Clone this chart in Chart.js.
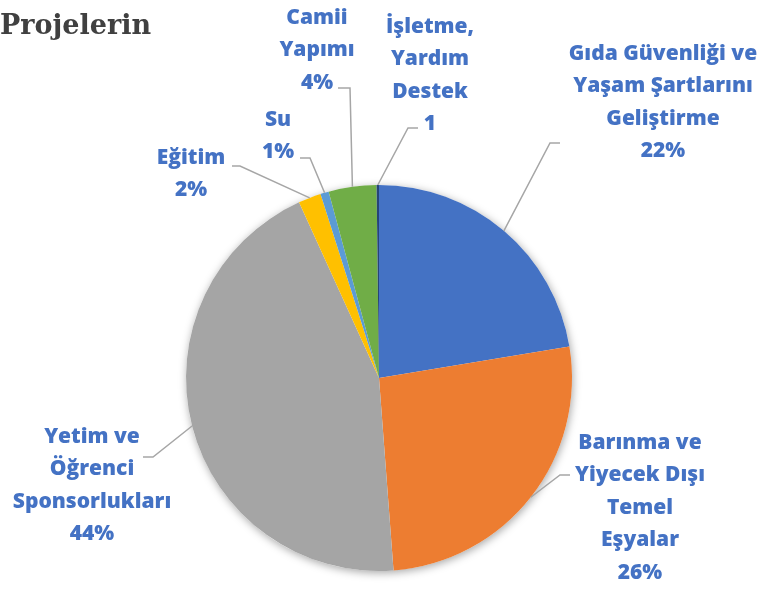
<!DOCTYPE html>
<html>
<head>
<meta charset="utf-8">
<script src="https://cdn.jsdelivr.net/npm/chart.js@4"></script>
<style>
  html, body { margin: 0; padding: 0; background: #fff; }
  canvas { display: block; }
</style>
</head>
<body>
<canvas id="chart" width="763" height="590"></canvas>
<script>
// chart title
const chartTitle = 'Projelerin';

// slice names, in drawing order (clockwise from 12 o'clock)
const categories = [
  'Gıda Güvenliği ve Yaşam Şartlarını Geliştirme',
  'Barınma ve Yiyecek Dışı Temel Eşyalar',
  'Yetim ve Öğrenci Sponsorlukları',
  'Eğitim',
  'Su',
  'Camii Yapımı',
  'İşletme, Yardım Destek'
];

// share of each slice (percent)
const shares = [22.4, 26.4, 44.4, 1.9, 0.7, 4.0, 0.2];

// label text as shown next to each slice (one entry per line)
const labelLines = [
  ['Gıda Güvenliği ve', 'Yaşam Şartlarını', 'Geliştirme', '22%'],
  ['Barınma ve', 'Yiyecek Dışı', 'Temel', 'Eşyalar', '26%'],
  ['Yetim ve', 'Öğrenci', 'Sponsorlukları', '44%'],
  ['Eğitim', '2%'],
  ['Su', '1%'],
  ['Camii', 'Yapımı', '4%'],
  ['İşletme,', 'Yardım', 'Destek', '1']
];

const sliceColors = ['#4472C4', '#ED7D31', '#A5A5A5', '#FFC000', '#5B9BD5', '#70AD47', '#264478'];

// where each data label sits: text centre x, first line y, leader elbow and end
const labelLayout = [
  { x: 663, y: 54, elbow: [550, 143], end: [560, 143] },
  { x: 640, y: 443, elbow: [560, 475], end: [570, 475] },
  { x: 92, y: 437, elbow: [153, 457], end: [143, 457] },
  { x: 191, y: 158, elbow: [240, 166], end: [232, 166] },
  { x: 278, y: 120, elbow: [310, 158], end: [300, 158] },
  { x: 317, y: 18, elbow: [350, 88], end: [338, 88] },
  { x: 430, y: 27, elbow: [408, 128], end: [418, 128] }
];
const lineGap = 32.5;

// soft shadow under the pie, like the office chart
const pieShadow = {
  id: 'pieShadow',
  beforeDatasetsDraw(chart) {
    const arc = chart.getDatasetMeta(0).data[0];
    if (!arc) return;
    const ctx = chart.ctx;
    ctx.save();
    ctx.shadowColor = 'rgba(0,0,0,0.35)';
    ctx.shadowBlur = 9;
    ctx.shadowOffsetX = 1;
    ctx.shadowOffsetY = 2;
    ctx.fillStyle = '#ffffff';
    ctx.beginPath();
    ctx.arc(arc.x, arc.y, arc.outerRadius, 0, Math.PI * 2);
    ctx.fill();
    ctx.restore();
  }
};

// leader lines and labels outside the pie
const outsideLabels = {
  id: 'outsideLabels',
  afterDatasetsDraw(chart) {
    const ctx = chart.ctx;
    const arcs = chart.getDatasetMeta(0).data;
    ctx.save();
    // title
    ctx.font = 'bold 27px "DejaVu Serif"';
    ctx.fillStyle = '#404040';
    ctx.textAlign = 'left';
    ctx.textBaseline = 'alphabetic';
    ctx.fillText(chartTitle, 0, 34);

    arcs.forEach((arc, i) => {
      const lay = labelLayout[i];
      const mid = (arc.startAngle + arc.endAngle) / 2;
      const sx = arc.x + Math.cos(mid) * arc.outerRadius;
      const sy = arc.y + Math.sin(mid) * arc.outerRadius;
      ctx.strokeStyle = '#A6A6A6';
      ctx.lineWidth = 1.5;
      ctx.beginPath();
      ctx.moveTo(sx, sy);
      ctx.lineTo(lay.elbow[0], lay.elbow[1]);
      ctx.lineTo(lay.end[0], lay.end[1]);
      ctx.stroke();

      ctx.font = '800 21px "Open Sans"';
      ctx.fillStyle = '#4472C4';
      ctx.textAlign = 'center';
      ctx.textBaseline = 'middle';
      labelLines[i].forEach((t, k) => {
        ctx.fillText(t, lay.x, lay.y + k * lineGap);
      });
    });
    ctx.restore();
  }
};

new Chart(document.getElementById('chart'), {
  type: 'pie',
  data: {
    labels: categories,
    datasets: [{
      data: shares,
      backgroundColor: sliceColors,
      borderWidth: 0
    }]
  },
  options: {
    responsive: false,
    animation: false,
    devicePixelRatio: 1,
    layout: {
      padding: { left: 186, top: 185, right: 191, bottom: 19 }
    },
    plugins: {
      legend: { display: false },
      title: { display: false },
      tooltip: { enabled: false }
    }
  },
  plugins: [pieShadow, outsideLabels]
});
</script>
</body>
</html>
